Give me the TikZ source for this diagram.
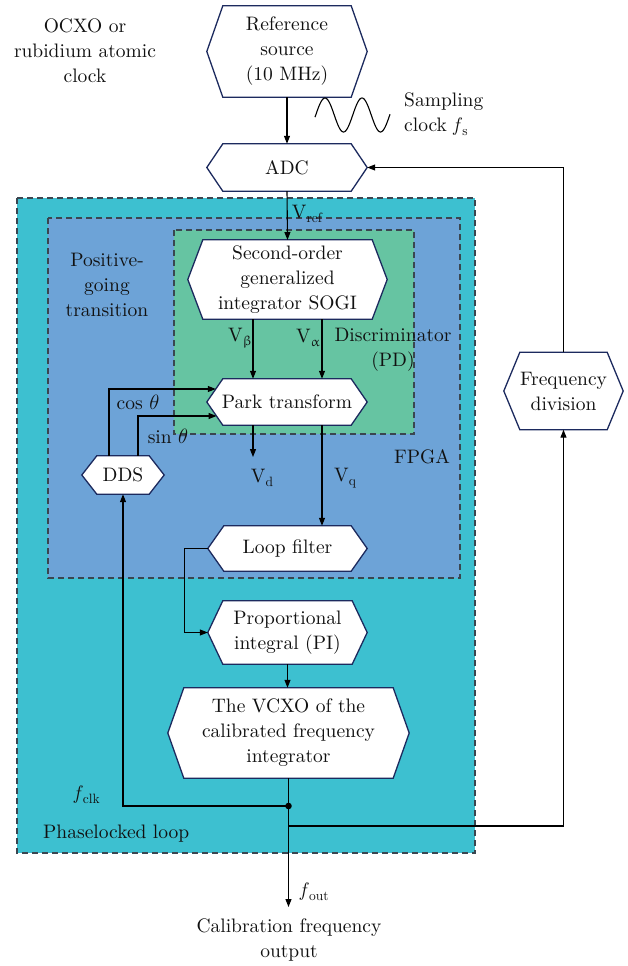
\documentclass[tikz,border=0pt]{standalone}
\usepackage{fontspec}
\setmainfont{lmroman10-regular.otf}[ItalicFont=lmroman10-italic.otf, BoldFont=lmroman10-bold.otf]
\usepackage{upgreek}
\usetikzlibrary{arrows.meta,calc}
\pgfdeclarelayer{regions}
\pgfdeclarelayer{hexes}
\pgfsetlayers{regions,hexes,main}

\definecolor{pllfill}{HTML}{3DC0D0}
\definecolor{fpgafill}{HTML}{6DA3D7}
\definecolor{pdfill}{HTML}{66C4A2}
\definecolor{hexblue}{HTML}{1C2A5E}
\definecolor{dashgray}{HTML}{3A4650}
\definecolor{ink}{HTML}{111111}

% lowered small subscript for text labels
\newcommand\lsub[1]{\raisebox{-0.5ex}{\fontsize{13.5}{14}\selectfont #1}}
% hexagonal block: name, centre, width, height, inset, text
\newcommand\hexnode[6]{%
  \node[hexbox, minimum width=#3, minimum height=#4] (#1) at #2 {#6};
  \begin{pgfonlayer}{hexes}
    \filldraw[hexline] (#1.west) -- ([xshift=#5]#1.north west) -- ([xshift=-#5]#1.north east)
      -- (#1.east) -- ([xshift=-#5]#1.south east) -- ([xshift=#5]#1.south west) -- cycle;
  \end{pgfonlayer}}

\begin{document}
\begin{tikzpicture}[x=1pt,y=-1pt,
  font=\fontsize{19.5}{25}\selectfont, text=ink,
  hexbox/.style={rectangle, inner sep=0pt, align=center},
  hexline/.style={draw=hexblue, line width=1.3pt, fill=white, line join=miter},
  conn/.style={line width=1.1pt, draw=black},
  arr/.style={conn, -{Triangle[length=8pt,width=6pt]}},
  region/.style={draw=dashgray, dash pattern=on 6pt off 4pt, line width=1.1pt},
  lbl/.style={align=center, inner sep=0pt}]

\useasboundingbox (0,0) rectangle (627,966);

% nested dashed regions
\begin{pgfonlayer}{regions}
  \filldraw[region, fill=pllfill]  (17,198)  rectangle (475,853);
  \filldraw[region, fill=fpgafill] (48,218)  rectangle (460,578);
  \filldraw[region, fill=pdfill]   (174,230) rectangle (414,434);
\end{pgfonlayer}

% blocks
\hexnode{ref}{(287,51.5)}{160pt}{91pt}{16pt}{Reference\\source\\(10 MHz)}
\hexnode{adc}{(287,167.5)}{160pt}{47pt}{16pt}{ADC}
\hexnode{sogi}{(287.5,279.5)}{199pt}{79pt}{15pt}{Second-order\\generalized\\integrator SOGI}
\hexnode{park}{(287,402)}{160pt}{46pt}{16pt}{Park transform}
\hexnode{dds}{(123,475)}{82pt}{38pt}{15pt}{DDS}
\hexnode{loop}{(287.5,548.5)}{159pt}{45pt}{16pt}{Loop filter}
\hexnode{pi}{(287.5,632.5)}{159pt}{63pt}{15pt}{Proportional\\integral (PI)}
\hexnode{vcxo}{(288.5,733)}{241pt}{90pt}{16pt}{The VCXO of the\\calibrated frequency\\integrator}
\hexnode{freq}{(563.5,391)}{119pt}{77pt}{16pt}{Frequency\\division}

% free labels
\node[lbl] (ocxo) at (85,51) {OCXO or\\rubidium atomic\\clock};
\node[lbl, anchor=west, align=left] (samp) at (404,114.5) {Sampling\\clock \textit{f}\lsub{s}};
\node[lbl] (pos) at (107,284.5) {Positive-\\going\\transition};
\node[lbl] (disc) at (393,349.5) {Discriminator\\(PD)};
\node[lbl] (fpga) at (422,457) {FPGA};
\node[lbl] (pll) at (43,834) [anchor=west] {Phaselocked loop};
\node[lbl] (out) at (289,940) {Calibration frequency\\output};

% sampling clock waveform
\draw[line width=1.1pt] plot[domain=315:390, samples=120, smooth]
  (\x, {115-17*cos((\x-325)/37*360)});

% helper columns
\coordinate (xb) at (253,0);
\coordinate (xa) at (322,0);
\coordinate (vdend) at (253,457);
\coordinate (jn) at (288.5,806);
\coordinate (br) at (288.5,826);
\coordinate (outend) at (288.5,907);

% signal path
\draw[arr] (ref.south) -- (adc.north);
\draw[arr] (adc.south) -- (sogi.north |- 0,240);
\node[lbl] (vref) at (307,214) {V\lsub{ref}};
\draw[arr] (sogi.south -| xb) -- (park.north -| xb);
\node[lbl] (vb) at (240,338) {V\lsub{$\upbeta$}};
\draw[arr] (sogi.south -| xa) -- (park.north -| xa);
\node[lbl] (va) at (308,338) {V\lsub{$\upalpha$}};
\draw[arr] (park.south -| xb) -- (vdend);
\node[lbl] (vd) at (262,478) {V\lsub{d}};
\draw[arr] (park.south -| xa) -- (loop.north -| xa);
\node[lbl] (vq) at (345,478) {V\lsub{q}};
\draw[arr] (loop.west) -- ++(-23,0) |- (pi.west);
\draw[arr] (pi.south) -- (pi.south |- vcxo.north);

% DDS feedback into Park transform
\draw[arr] ([xshift=-14pt]dds.north) |- ([xshift=9pt,yshift=13pt]park.west);
\node[lbl] (cos) at (138,402) {cos $\theta$};
\draw[arr] ([xshift=15pt]dds.north) |- ([xshift=9.7pt,yshift=-14pt]park.west);
\node[lbl] (sin) at (168,436) {sin $\theta$};

% VCXO output, clock return and divider loop
\draw[conn] (vcxo.south) -- (jn);
\fill (jn) circle (3.3);
\draw[arr] (jn) -| (dds.south);
\node[lbl] (fclk) at (87,795) {\textit{f}\lsub{clk}};
\draw[arr] (jn) -- (outend);
\node[lbl, anchor=west] (fout) at (300,892) {\textit{f}\lsub{out}};
\draw[arr] (br) -| (freq.south);
\draw[arr] (freq.north) |- (adc.east);

\end{tikzpicture}
\end{document}
